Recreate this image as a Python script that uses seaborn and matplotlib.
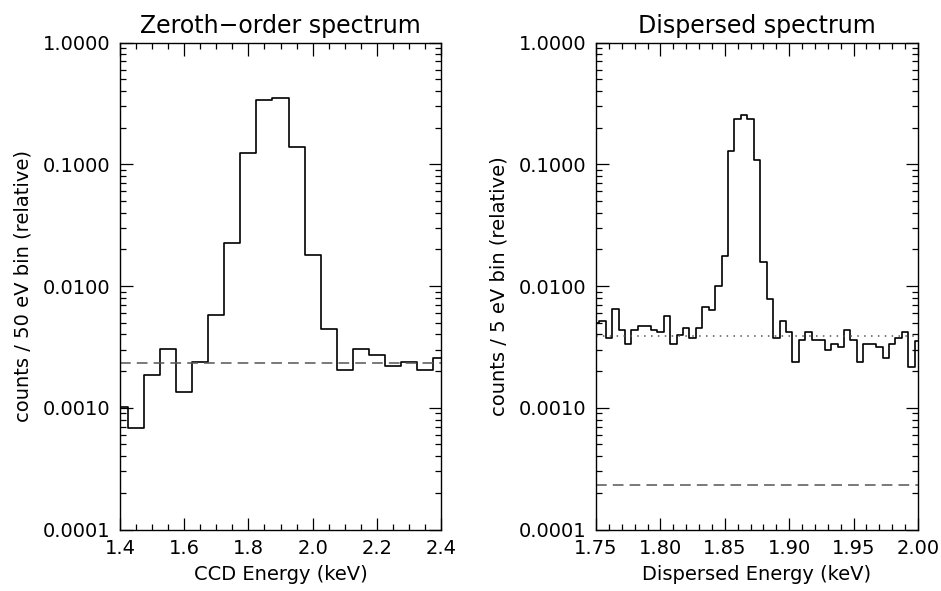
import numpy as np
import pandas as pd
import seaborn as sns
import matplotlib.pyplot as plt
from matplotlib.ticker import FixedLocator, LogLocator, MultipleLocator, FuncFormatter, NullFormatter

# zeroth-order spectrum, 50 eV bins (bin centres in keV)
ccd_energy = [1.40, 1.45, 1.50, 1.55, 1.60, 1.65, 1.70, 1.75, 1.80, 1.85, 1.90,
              1.95, 2.00, 2.05, 2.10, 2.15, 2.20, 2.25, 2.30, 2.35, 2.40]
ccd_counts = [0.00102, 0.00068, 0.00186, 0.00306, 0.00135, 0.00238, 0.00574, 0.0224,
              0.1246, 0.340, 0.351, 0.138, 0.0181, 0.00444, 0.00203, 0.00306,
              0.00270, 0.00221, 0.00238, 0.00203, 0.00255]
ccd_background = 0.00233

# dispersed spectrum, 5 eV bins
disp_energy = [1.750, 1.755, 1.760, 1.765, 1.770, 1.775, 1.780, 1.785, 1.790, 1.795,
               1.800, 1.805, 1.810, 1.815, 1.820, 1.825, 1.830, 1.835, 1.840, 1.845,
               1.850, 1.855, 1.860, 1.865, 1.870, 1.875, 1.880, 1.885, 1.890, 1.895,
               1.900, 1.905, 1.910, 1.915, 1.920, 1.925, 1.930, 1.935, 1.940, 1.945,
               1.950, 1.955, 1.960, 1.965, 1.970, 1.975, 1.980, 1.985, 1.990, 1.995,
               2.000]
disp_counts = [0.00499, 0.00514, 0.00376, 0.00649, 0.00435, 0.00336, 0.00435, 0.00471, 0.00471, 0.00435,
               0.00416, 0.00572, 0.00336, 0.00393, 0.00454, 0.00371, 0.00454, 0.00670, 0.00633, 0.01007,
               0.01771, 0.1277, 0.2334, 0.2547, 0.2334, 0.1079, 0.01560, 0.00787, 0.00376, 0.00514,
               0.00416, 0.00236, 0.00360, 0.00416, 0.00360, 0.00360, 0.00298, 0.00336, 0.00317, 0.00435,
               0.00360, 0.00236, 0.00336, 0.00336, 0.00317, 0.00258, 0.00336, 0.00376, 0.00416, 0.00218,
               0.00355]
disp_background = 0.0039
disp_ccd_background = 0.000233

ytick_vals = [0.0001, 0.001, 0.01, 0.1, 1.0]

zeroth = pd.DataFrame({'energy': ccd_energy, 'counts': ccd_counts})
dispersed = pd.DataFrame({'energy': disp_energy, 'counts': disp_counts})

sns.set_style('ticks')
plt.rcParams['font.family'] = ['DejaVu Sans']
plt.rcParams['text.color'] = 'black'
plt.rcParams['axes.labelcolor'] = 'black'
plt.rcParams['xtick.color'] = 'black'
plt.rcParams['ytick.color'] = 'black'

W, H = 941, 591
fig = plt.figure(figsize=(W / 100, H / 100), dpi=100)
ax1 = fig.add_axes([120 / W, (H - 529.5) / H, 321 / W, 487 / H])
ax2 = fig.add_axes([596 / W, (H - 529.5) / H, 322 / W, 487 / H])

sns.lineplot(data=zeroth, x='energy', y='counts', ax=ax1, color='black',
             drawstyle='steps-mid', linewidth=1.2, estimator=None)
ax1.axhline(ccd_background, color='#555555', linestyle=(0, (7, 4)), linewidth=1.1)

sns.lineplot(data=dispersed, x='energy', y='counts', ax=ax2, color='black',
             drawstyle='steps-mid', linewidth=1.2, estimator=None)
ax2.axhline(disp_background, color='#555555', linestyle=(0, (1, 3.5)), linewidth=1.1)
ax2.axhline(disp_ccd_background, color='#555555', linestyle=(0, (7, 4)), linewidth=1.1)

settings = [
    (ax1, (1.4, 2.4), 0.2, 0.05, 'Zeroth\u2212order spectrum', 'CCD Energy (keV)',
     'counts / 50 eV bin (relative)', '%.1f'),
    (ax2, (1.75, 2.0), 0.05, 0.01, 'Dispersed spectrum', 'Dispersed Energy (keV)',
     'counts / 5 eV bin (relative)', '%.2f'),
]

for ax, xlim, major, minor, title, xlabel, ylabel, xfmt in settings:
    ax.set_yscale('log')
    ax.set_ylim(1e-4, 1.0)
    ax.set_xlim(*xlim)
    ax.yaxis.set_major_locator(FixedLocator(ytick_vals))
    ax.yaxis.set_minor_locator(LogLocator(base=10, subs=np.arange(2, 10)))
    ax.yaxis.set_major_formatter(FuncFormatter(lambda v, p: '%.4f' % v))
    ax.yaxis.set_minor_formatter(NullFormatter())
    ax.xaxis.set_major_locator(MultipleLocator(major))
    ax.xaxis.set_minor_locator(MultipleLocator(minor))
    ax.xaxis.set_major_formatter(FuncFormatter(lambda v, p, f=xfmt: f % v))
    ax.tick_params(which='both', top=True, right=True, direction='in',
                   labelsize=14, color='black', labelcolor='black', width=0.9)
    ax.tick_params(which='major', length=9, pad=7)
    ax.tick_params(which='minor', length=4.5)
    for sp in ax.spines.values():
        sp.set_linewidth(1.0)
        sp.set_color('black')
    ax.set_title(title, fontsize=17, pad=7, color='black')
    ax.set_xlabel(xlabel, fontsize=14, labelpad=5)
    ax.set_ylabel(ylabel, fontsize=14, labelpad=7)

fig.savefig('out.png', dpi=100)
